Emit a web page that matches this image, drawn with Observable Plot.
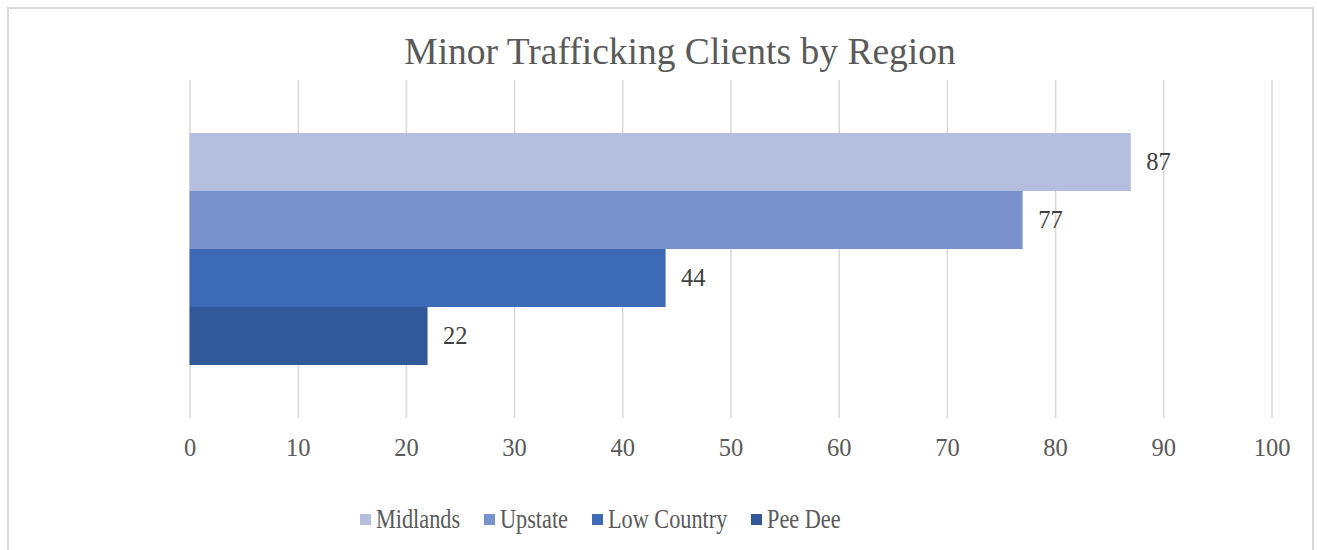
<!DOCTYPE html>
<html>
<head>
<meta charset="utf-8">
<script src="https://cdn.jsdelivr.net/npm/d3@7"></script>
<script src="https://cdn.jsdelivr.net/npm/@observablehq/plot@0.6"></script>
<style>
  html, body { margin: 0; padding: 0; background: #fff; width: 1317px; height: 550px; overflow: hidden; }
  #frame { position: absolute; left: 7px; top: 7px; width: 1307px; height: 560px; border: 2px solid #d9d9d9; box-sizing: border-box; }
  #title { position: absolute; left: 0; width: 1360px; top: 30px; text-align: center; font-family: "Liberation Serif", "Times New Roman", serif; font-size: 37.5px; color: #595959; line-height: 44px; white-space: nowrap; }
  #chart { position: absolute; left: 0; top: 0; }
  #legend { position: absolute; left: 360px; top: 503px; display: flex; gap: 24px; font-family: "Liberation Serif", "Times New Roman", serif; font-size: 26.5px; color: #595959; line-height: 32px; }
  .item { display: flex; align-items: center; gap: 5px; white-space: nowrap; }
  .sw { width: 11px; height: 11px; display: inline-block; }
  .lbl { display: inline-block; transform: scaleX(0.84); transform-origin: left center; }
</style>
</head>
<body>
<div id="frame"></div>
<div id="title">Minor Trafficking Clients by Region</div>
<div id="chart"></div>
<div id="legend"></div>
<script>
const regions = ["Midlands", "Upstate", "Low Country", "Pee Dee"];
const clients = [87, 77, 44, 22];
const xTicks = [0, 10, 20, 30, 40, 50, 60, 70, 80, 90, 100];
const palette = ["#b4bfdf", "#7992ce", "#3d6ab7", "#315899"];

const data = regions.map((r, i) => ({region: r, value: clients[i]}));

const chart = Plot.plot({
  width: 1317,
  height: 480,
  marginTop: 80,
  marginBottom: 62,
  marginLeft: 189.5,
  marginRight: 45.5,
  style: { fontFamily: "'Liberation Serif', 'Times New Roman', serif", fontSize: "24.5px", color: "#595959", background: "transparent", overflow: "visible" },
  x: { domain: [0, 100], ticks: xTicks, label: null },
  y: { domain: regions, range: [132, 365], padding: 0, axis: null },
  color: { domain: regions, range: palette },
  marks: [
    Plot.ruleX(xTicks, { stroke: "#d9d9d9", strokeWidth: 1.5 }),
    Plot.barX(data, { x: "value", y: "region", fill: "region" }),
    Plot.text(data, { x: "value", y: "region", text: d => String(d.value), dx: 15, textAnchor: "start", fill: "#404040", fontSize: 24.5 }),
    Plot.axisX({ ticks: xTicks, tickSize: 0, tickPadding: 20, label: null, fill: "#595959", fontSize: 24.5 })
  ]
});
document.getElementById("chart").appendChild(chart);

const SX = 0.84;
const legend = document.getElementById("legend");
regions.forEach((r, i) => {
  const item = document.createElement("div");
  item.className = "item";
  const sw = document.createElement("span");
  sw.className = "sw";
  sw.style.background = palette[i];
  const t = document.createElement("span");
  t.className = "lbl";
  t.textContent = r;
  item.appendChild(sw);
  item.appendChild(t);
  legend.appendChild(item);
  const w = t.getBoundingClientRect().width / SX;
  t.style.marginRight = (-(w * (1 - SX))) + "px";
});
</script>
</body>
</html>
